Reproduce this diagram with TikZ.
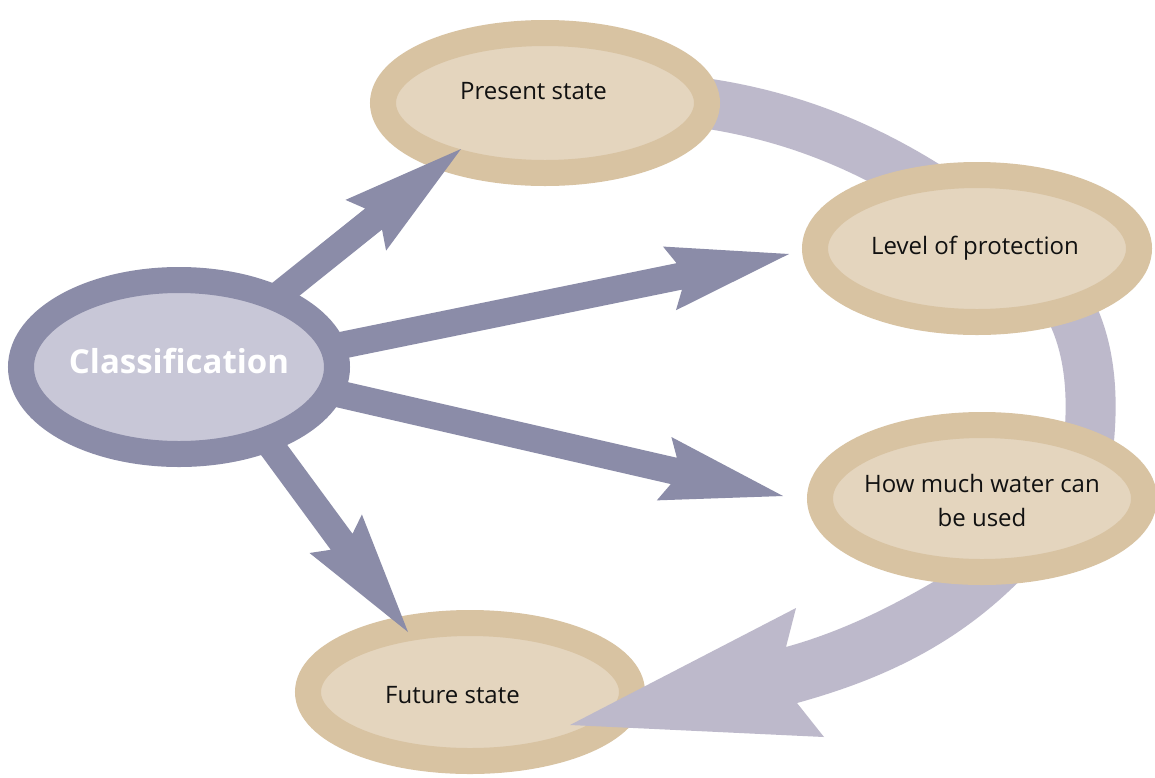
\documentclass[tikz,border=0pt]{standalone}
\usepackage{fontspec}
\setmainfont{Open Sans}
\usetikzlibrary{shapes.geometric,calc}
\pgfdeclarelayer{back}
\pgfdeclarelayer{front}
\pgfdeclarelayer{top}
\pgfsetlayers{back,main,front,top}
\definecolor{darkc}{HTML}{8B8CA8}
\definecolor{clsfill}{HTML}{C8C7D7}
\definecolor{tanring}{HTML}{D8C3A2}
\definecolor{tanfill}{HTML}{E4D5BE}
\definecolor{bandc}{HTML}{BDB9CB}
\definecolor{txtc}{HTML}{111111}
\newcommand{\placetext}[3]{\raisebox{#2}[0pt][0pt]{\makebox[0pt]{\hspace*{#1}#3\hspace*{-#1}}}}
\tikzset{
  tanell/.style={ellipse, draw=tanring, fill=tanfill, line width=26pt, minimum width=324pt, minimum height=140pt, inner sep=0pt, text=txtc, font=\fontsize{24}{34.5}\selectfont},
  clsell/.style={ellipse, draw=darkc, fill=clsfill, line width=26pt, minimum width=316pt, minimum height=174pt, inner sep=0pt, text=white, font=\bfseries\fontsize{33}{36}\selectfont},
  band/.style={draw=bandc, line width=50pt},
  bandarrow/.style={fill=bandc},
  fatarrow/.style={fill=darkc},
}
\newcommand{\fatarr}[2]{%
  \path #1 coordinate (fa-s);
  \path #2 coordinate (fa-e);
  \coordinate (fa-n) at ($(fa-e)!112pt!(fa-s)$);
  \coordinate (fa-b) at ($(fa-e)!122pt!(fa-s)$);
  \fill[fatarrow] ($(fa-s)!13.5pt!90:(fa-e)$) -- ($(fa-n)!13.5pt!90:(fa-e)$)
    -- ($(fa-b)!32.5pt!90:(fa-e)$) -- (fa-e) -- ($(fa-b)!32.5pt!-90:(fa-e)$)
    -- ($(fa-n)!13.5pt!-90:(fa-e)$) -- ($(fa-s)!13.5pt!-90:(fa-e)$) -- cycle;
}
\begin{document}
\begin{tikzpicture}[x=1pt,y=-1pt]
\useasboundingbox (0,0) rectangle (1155,777);
\begin{pgfonlayer}{back}
  \fill[white] (0,0) rectangle (1155,777);
\end{pgfonlayer}
% nodes
\begin{pgfonlayer}{top}
  \node[clsell] (cls) at (179,367) {\placetext{0pt}{-6.3pt}{Classification}};
  \node[tanell, minimum height=147pt] (water) at (982,498.5)
    {\placetext{0pt}{-28.2pt}{\begin{tabular}[b]{@{}c@{}}How much water can\\be used\end{tabular}}};
\end{pgfonlayer}
\node[tanell, minimum height=140pt] (present) at (545,103) {\placetext{-11.5pt}{4pt}{Present state}};
\node[tanell, minimum height=147pt] (level) at (977,248.5) {\placetext{-2pt}{-5.5pt}{Level of protection}};
\node[tanell, minimum height=138pt] (future) at (470,692) {\placetext{-17.5pt}{-11pt}{Future state}};
% light cycle bands
\begin{pgfonlayer}{back}
  \draw[band] ($(present)+(135,-3)$) .. controls ($(present)+(245,9)$) and ($(level)+(-97,-98.5)$) .. ($(level)+(-7,-33.5)$);
  \draw[band] ($(level)+(63,21.5)$) .. controls ($(level)+(108,61.5)$) and ($(water)+(118,-118.5)$) .. ($(water)+(103,-28.5)$);
\end{pgfonlayer}
\begin{pgfonlayer}{front}
  \fill[bandarrow] ($(water)+(-37,76.5)$) .. controls ($(water)+(-92,109.5)$) and ($(water)+(-142,133.5)$) .. ($(water)+(-196,148.5)$)
    -- ($(water)+(-186,109.5)$) -- ($(future)+(100,33)$) -- ($(water)+(-158,238.5)$) -- ($(water)+(-185,204.5)$)
    .. controls ($(water)+(-102,181.5)$) and ($(water)+(-22,146.5)$) .. ($(water)+(48,71.5)$) -- cycle;
  \fatarr{($(cls)+(71,-49)$)}{($(present)+(-84,46)$)}
  \fatarr{($(cls)+(120,-13)$)}{($(level)+(-188,5.5)$)}
  \fatarr{($(cls)+(121,18)$)}{($(water)+(-199,-2.5)$)}
  \fatarr{($(cls)+(51,23)$)}{($(future)+(-62,-60)$)}
\end{pgfonlayer}
\end{tikzpicture}
\end{document}
